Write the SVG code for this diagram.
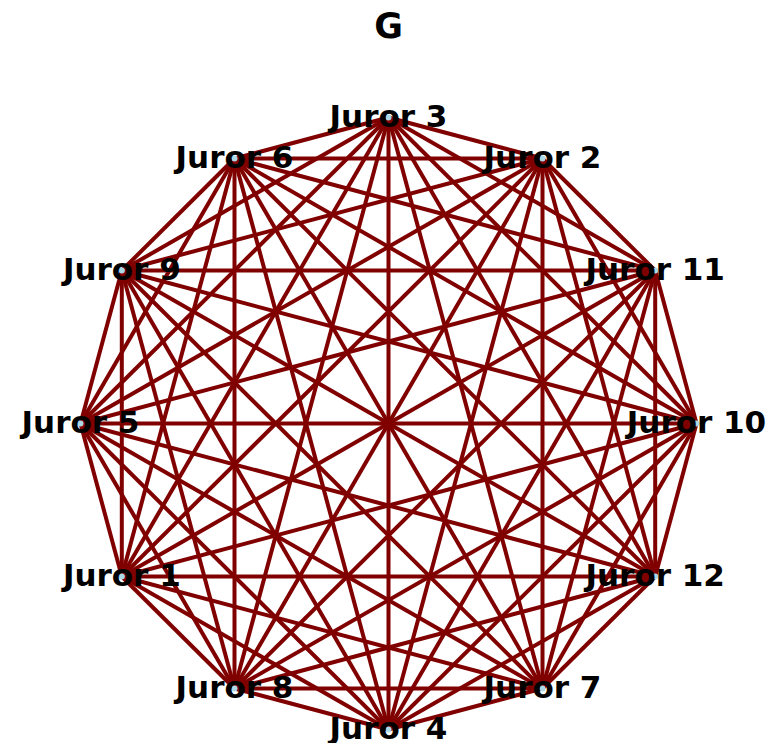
<svg xmlns="http://www.w3.org/2000/svg" width="774" height="743" viewBox="0 0 774 743">
<style>
.e{stroke:#800000;stroke-width:4;stroke-linecap:butt}
.n{fill:#add8e6}
.t{font-family:"DejaVu Sans",sans-serif;font-weight:bold;font-size:31px;text-anchor:middle;fill:#000}
.title{font-family:"DejaVu Sans",sans-serif;font-weight:bold;font-size:35px;text-anchor:middle;fill:#000}
</style>
<rect width="774" height="743" fill="#fff"/>
<text class="title" x="388.5" y="38">G</text>
<g id="edges">
<line class="e" x1="388.5" y1="117.5" x2="542.5" y2="158.5"/>
<line class="e" x1="388.5" y1="117.5" x2="655.2" y2="270.5"/>
<line class="e" x1="388.5" y1="117.5" x2="696.5" y2="423.5"/>
<line class="e" x1="388.5" y1="117.5" x2="655.2" y2="576.5"/>
<line class="e" x1="388.5" y1="117.5" x2="542.5" y2="688.5"/>
<line class="e" x1="388.5" y1="117.5" x2="388.5" y2="729.5"/>
<line class="e" x1="388.5" y1="117.5" x2="234.5" y2="688.5"/>
<line class="e" x1="388.5" y1="117.5" x2="121.8" y2="576.5"/>
<line class="e" x1="388.5" y1="117.5" x2="80.5" y2="423.5"/>
<line class="e" x1="388.5" y1="117.5" x2="121.8" y2="270.5"/>
<line class="e" x1="388.5" y1="117.5" x2="234.5" y2="158.5"/>
<line class="e" x1="542.5" y1="158.5" x2="655.2" y2="270.5"/>
<line class="e" x1="542.5" y1="158.5" x2="696.5" y2="423.5"/>
<line class="e" x1="542.5" y1="158.5" x2="655.2" y2="576.5"/>
<line class="e" x1="542.5" y1="158.5" x2="542.5" y2="688.5"/>
<line class="e" x1="542.5" y1="158.5" x2="388.5" y2="729.5"/>
<line class="e" x1="542.5" y1="158.5" x2="234.5" y2="688.5"/>
<line class="e" x1="542.5" y1="158.5" x2="121.8" y2="576.5"/>
<line class="e" x1="542.5" y1="158.5" x2="80.5" y2="423.5"/>
<line class="e" x1="542.5" y1="158.5" x2="121.8" y2="270.5"/>
<line class="e" x1="542.5" y1="158.5" x2="234.5" y2="158.5"/>
<line class="e" x1="655.2" y1="270.5" x2="696.5" y2="423.5"/>
<line class="e" x1="655.2" y1="270.5" x2="655.2" y2="576.5"/>
<line class="e" x1="655.2" y1="270.5" x2="542.5" y2="688.5"/>
<line class="e" x1="655.2" y1="270.5" x2="388.5" y2="729.5"/>
<line class="e" x1="655.2" y1="270.5" x2="234.5" y2="688.5"/>
<line class="e" x1="655.2" y1="270.5" x2="121.8" y2="576.5"/>
<line class="e" x1="655.2" y1="270.5" x2="80.5" y2="423.5"/>
<line class="e" x1="655.2" y1="270.5" x2="121.8" y2="270.5"/>
<line class="e" x1="655.2" y1="270.5" x2="234.5" y2="158.5"/>
<line class="e" x1="696.5" y1="423.5" x2="655.2" y2="576.5"/>
<line class="e" x1="696.5" y1="423.5" x2="542.5" y2="688.5"/>
<line class="e" x1="696.5" y1="423.5" x2="388.5" y2="729.5"/>
<line class="e" x1="696.5" y1="423.5" x2="234.5" y2="688.5"/>
<line class="e" x1="696.5" y1="423.5" x2="121.8" y2="576.5"/>
<line class="e" x1="696.5" y1="423.5" x2="80.5" y2="423.5"/>
<line class="e" x1="696.5" y1="423.5" x2="121.8" y2="270.5"/>
<line class="e" x1="696.5" y1="423.5" x2="234.5" y2="158.5"/>
<line class="e" x1="655.2" y1="576.5" x2="542.5" y2="688.5"/>
<line class="e" x1="655.2" y1="576.5" x2="388.5" y2="729.5"/>
<line class="e" x1="655.2" y1="576.5" x2="234.5" y2="688.5"/>
<line class="e" x1="655.2" y1="576.5" x2="121.8" y2="576.5"/>
<line class="e" x1="655.2" y1="576.5" x2="80.5" y2="423.5"/>
<line class="e" x1="655.2" y1="576.5" x2="121.8" y2="270.5"/>
<line class="e" x1="655.2" y1="576.5" x2="234.5" y2="158.5"/>
<line class="e" x1="542.5" y1="688.5" x2="388.5" y2="729.5"/>
<line class="e" x1="542.5" y1="688.5" x2="234.5" y2="688.5"/>
<line class="e" x1="542.5" y1="688.5" x2="121.8" y2="576.5"/>
<line class="e" x1="542.5" y1="688.5" x2="80.5" y2="423.5"/>
<line class="e" x1="542.5" y1="688.5" x2="121.8" y2="270.5"/>
<line class="e" x1="542.5" y1="688.5" x2="234.5" y2="158.5"/>
<line class="e" x1="388.5" y1="729.5" x2="234.5" y2="688.5"/>
<line class="e" x1="388.5" y1="729.5" x2="121.8" y2="576.5"/>
<line class="e" x1="388.5" y1="729.5" x2="80.5" y2="423.5"/>
<line class="e" x1="388.5" y1="729.5" x2="121.8" y2="270.5"/>
<line class="e" x1="388.5" y1="729.5" x2="234.5" y2="158.5"/>
<line class="e" x1="234.5" y1="688.5" x2="121.8" y2="576.5"/>
<line class="e" x1="234.5" y1="688.5" x2="80.5" y2="423.5"/>
<line class="e" x1="234.5" y1="688.5" x2="121.8" y2="270.5"/>
<line class="e" x1="234.5" y1="688.5" x2="234.5" y2="158.5"/>
<line class="e" x1="121.8" y1="576.5" x2="80.5" y2="423.5"/>
<line class="e" x1="121.8" y1="576.5" x2="121.8" y2="270.5"/>
<line class="e" x1="121.8" y1="576.5" x2="234.5" y2="158.5"/>
<line class="e" x1="80.5" y1="423.5" x2="121.8" y2="270.5"/>
<line class="e" x1="80.5" y1="423.5" x2="234.5" y2="158.5"/>
<line class="e" x1="121.8" y1="270.5" x2="234.5" y2="158.5"/>
</g>
<g id="juror3"><circle class="n" cx="388.5" cy="117.5" r="3"/><text class="t" x="388.5" y="127">Juror 3</text></g>
<g id="juror2"><circle class="n" cx="542.5" cy="158.5" r="3"/><text class="t" x="542.5" y="168">Juror 2</text></g>
<g id="juror11"><circle class="n" cx="655.2" cy="270.5" r="3"/><text class="t" x="655.2" y="280">Juror 11</text></g>
<g id="juror10"><circle class="n" cx="696.5" cy="423.5" r="3"/><text class="t" x="696.5" y="433">Juror 10</text></g>
<g id="juror12"><circle class="n" cx="655.2" cy="576.5" r="3"/><text class="t" x="655.2" y="586">Juror 12</text></g>
<g id="juror7"><circle class="n" cx="542.5" cy="688.5" r="3"/><text class="t" x="542.5" y="698">Juror 7</text></g>
<g id="juror4"><circle class="n" cx="388.5" cy="729.5" r="3"/><text class="t" x="388.5" y="739">Juror 4</text></g>
<g id="juror8"><circle class="n" cx="234.5" cy="688.5" r="3"/><text class="t" x="234.5" y="698">Juror 8</text></g>
<g id="juror1"><circle class="n" cx="121.8" cy="576.5" r="3"/><text class="t" x="121.8" y="586">Juror 1</text></g>
<g id="juror5"><circle class="n" cx="80.5" cy="423.5" r="3"/><text class="t" x="80.5" y="433">Juror 5</text></g>
<g id="juror9"><circle class="n" cx="121.8" cy="270.5" r="3"/><text class="t" x="121.8" y="280">Juror 9</text></g>
<g id="juror6"><circle class="n" cx="234.5" cy="158.5" r="3"/><text class="t" x="234.5" y="168">Juror 6</text></g>
</svg>
